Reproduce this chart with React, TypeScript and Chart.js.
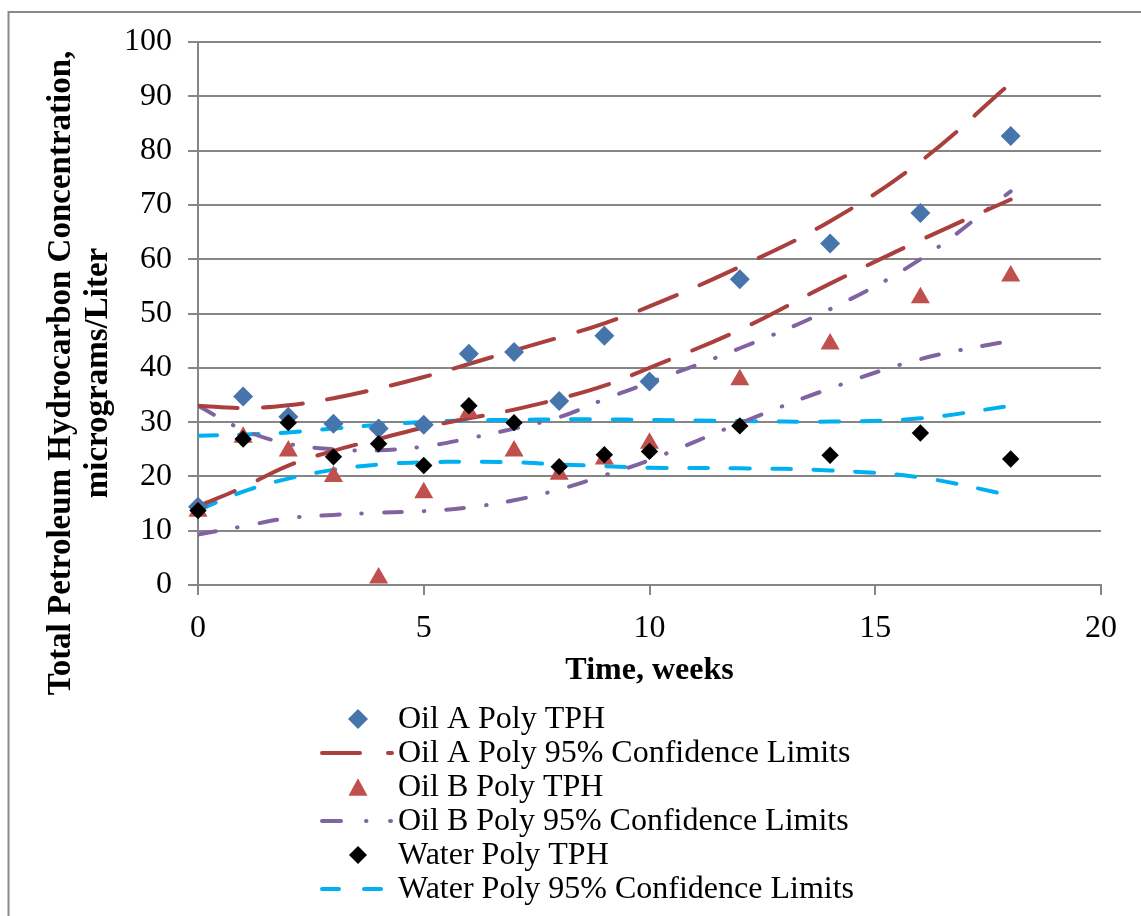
import React, { useEffect, useRef } from 'react';
import { Chart, registerables } from 'chart.js';

Chart.register(...registerables);

// ---------- data ----------
const weeks = [0, 1, 2, 3, 4, 5, 6, 7, 8, 9, 10, 12, 14, 16, 18];

const oilATph = [14.4, 34.7, 31.0, 29.7, 28.8, 29.5, 42.6, 42.9, 33.9, 45.9, 37.5, 56.3, 62.9, 68.5, 82.7];
const oilBTph = [13.6, 27.2, 24.7, 20.0, 1.3, 17.0, 31.8, 24.7, 20.4, 23.2, 26.1, 37.8, 44.4, 52.9, 56.9];
const waterTph = [13.7, 26.9, 29.9, 23.6, 26.0, 22.0, 33.0, 29.9, 21.8, 24.0, 24.6, 29.3, 23.9, 28.0, 23.2];

const oilAUpper = [33, 32.6, 33.1, 34.4, 36.2, 38.3, 40.7, 43.2, 45.6, 48.2, 51.3, 58.6, 67, 78, 92.4];
const oilALower = [14.5, 18, 22, 24.7, 26.9, 29, 30.7, 32.3, 34.3, 36.7, 40, 47, 55.5, 63.5, 71];
const oilBUpper = [33, 28.6, 26, 25, 24.8, 25.5, 27, 28.8, 30.9, 34.2, 37.3, 43.6, 50.8, 60, 72.5];
const oilBLower = [9.3, 10.8, 12.3, 12.9, 13.3, 13.6, 14.3, 15.6, 17.6, 20.2, 23, 29.8, 36.2, 41.6, 45];
const waterUpper = [27.5, 27.7, 28.1, 28.8, 29.5, 30, 30.3, 30.4, 30.5, 30.5, 30.4, 30.2, 30.1, 30.7, 33];
const waterLower = [13.8, 17.2, 19.6, 21.2, 22.2, 22.6, 22.7, 22.6, 22.2, 21.9, 21.6, 21.5, 21.1, 19.8, 16.5];

const legendLabels = [
  'Oil A Poly TPH',
  'Oil A Poly 95% Confidence Limits',
  'Oil B Poly TPH',
  'Oil B Poly 95% Confidence Limits',
  'Water Poly TPH',
  'Water Poly 95% Confidence Limits',
];

const yTitleLines = ['Total Petroleum Hydrocarbon Concentration,', 'micrograms/Liter'];
const xTitle = 'Time, weeks';

// ---------- styles ----------
const FONT = "'Liberation Serif', 'Times New Roman', serif";
const GRID = '#868686';
const BLUE = '#4675AC';
const RED_TRI = '#C0504D';
const RED_LINE = '#A9403D';
const PURPLE = '#8064A2';
const CYAN = '#00B0F0';

const RED_DASH = [40, 25];
const PURPLE_DASH = [18, 22, 0.5, 22];
const CYAN_DASH = [19, 22.5];

const pts = (ys: number[]) => weeks.map((x, i) => ({ x, y: ys[i] }));

function drawDiamond(ctx: CanvasRenderingContext2D, x: number, y: number, r: number, color: string) {
  ctx.beginPath();
  ctx.moveTo(x, y - r);
  ctx.lineTo(x + r, y);
  ctx.lineTo(x, y + r);
  ctx.lineTo(x - r, y);
  ctx.closePath();
  ctx.fillStyle = color;
  ctx.fill();
}

function drawTriangle(ctx: CanvasRenderingContext2D, x: number, y: number, r: number, color: string) {
  const h = r * 1.6;
  const w = r * Math.sqrt(3);
  ctx.beginPath();
  ctx.moveTo(x, y - h / 2);
  ctx.lineTo(x + w / 2, y + h / 2);
  ctx.lineTo(x - w / 2, y + h / 2);
  ctx.closePath();
  ctx.fillStyle = color;
  ctx.fill();
}

const framePlugin = {
  id: 'frameAndBg',
  beforeDraw(chart: any) {
    const ctx = chart.ctx as CanvasRenderingContext2D;
    ctx.save();
    ctx.fillStyle = '#ffffff';
    ctx.fillRect(0, 0, chart.width, chart.height);
    ctx.strokeStyle = '#898989';
    ctx.lineWidth = 2;
    ctx.strokeRect(8.5, 12, chart.width + 50, chart.height + 50);
    ctx.restore();
  },
};

const yTitlePlugin = {
  id: 'yTitle',
  afterDraw(chart: any) {
    const ctx = chart.ctx as CanvasRenderingContext2D;
    ctx.save();
    ctx.font = `bold 33px ${FONT}`;
    ctx.fillStyle = '#000';
    ctx.textAlign = 'center';
    ctx.textBaseline = 'middle';
    const cy = 373;
    const xs = [61, 98];
    yTitleLines.forEach((line, i) => {
      ctx.save();
      ctx.translate(xs[i], cy);
      ctx.rotate(-Math.PI / 2);
      ctx.fillText(line, 0, 0);
      ctx.restore();
    });
    ctx.restore();
  },
};

const legendPlugin = {
  id: 'customLegend',
  afterDraw(chart: any) {
    const ctx = chart.ctx as CanvasRenderingContext2D;
    const y0 = 719;
    const gap = 34;
    const markerX = 358;
    const lx0 = 322;
    const textX = 398;
    const samples: Record<number, { color: string; dash: number[]; end: number }> = {
      1: { color: RED_LINE, dash: [38, 28], end: 392 },
      3: { color: PURPLE, dash: [19, 25, 0.5, 23.5], end: 391 },
      5: { color: CYAN, dash: [17, 25], end: 384 },
    };
    ctx.save();
    legendLabels.forEach((label, i) => {
      const y = y0 + i * gap;
      if (i === 0) drawDiamond(ctx, markerX, y, 10, BLUE);
      if (i === 2) drawTriangle(ctx, markerX, y, 11, RED_TRI);
      if (i === 4) drawDiamond(ctx, markerX, y, 9, '#000');
      const s = samples[i];
      if (s) {
        ctx.save();
        ctx.lineWidth = 4;
        ctx.lineCap = 'round';
        ctx.strokeStyle = s.color;
        ctx.setLineDash(s.dash);
        ctx.beginPath();
        ctx.moveTo(lx0, y);
        ctx.lineTo(s.end, y);
        ctx.stroke();
        ctx.restore();
      }
      ctx.font = `32px ${FONT}`;
      ctx.fillStyle = '#000';
      ctx.textAlign = 'left';
      ctx.textBaseline = 'middle';
      ctx.fillText(label, textX, y + 1);
    });
    ctx.restore();
  },
};

function lineDs(data: number[], color: string, dash: number[]) {
  return {
    data: pts(data),
    showLine: true,
    borderColor: color,
    backgroundColor: color,
    borderWidth: 4,
    borderDash: dash,
    borderCapStyle: 'round',
    borderJoinStyle: 'round',
    tension: 0.4,
    pointRadius: 0,
    fill: false,
    order: 5,
  };
}

export default function App() {
  const ref = useRef<HTMLCanvasElement>(null);

  useEffect(() => {
    if (!ref.current) return;
    const chart = new Chart(ref.current, {
      type: 'scatter',
      data: {
        datasets: [
          lineDs(oilAUpper, RED_LINE, RED_DASH),
          lineDs(oilALower, RED_LINE, RED_DASH),
          lineDs(oilBUpper, PURPLE, PURPLE_DASH),
          lineDs(oilBLower, PURPLE, PURPLE_DASH),
          lineDs(waterUpper, CYAN, CYAN_DASH),
          lineDs(waterLower, CYAN, CYAN_DASH),
          {
            data: pts(oilATph),
            pointStyle: 'rectRot',
            pointRadius: 10,
            pointBackgroundColor: BLUE,
            pointBorderWidth: 0,
            borderWidth: 0,
            clip: false,
            order: 3,
          },
          {
            data: pts(oilBTph),
            pointStyle: 'triangle',
            pointRadius: 11,
            pointBackgroundColor: RED_TRI,
            pointBorderWidth: 0,
            borderWidth: 0,
            clip: false,
            order: 2,
          },
          {
            data: pts(waterTph),
            pointStyle: 'rectRot',
            pointRadius: 8.7,
            pointBackgroundColor: '#000',
            pointBorderWidth: 0,
            borderWidth: 0,
            clip: false,
            order: 1,
          },
        ] as any,
      },
      options: {
        responsive: false,
        animation: false,
        events: [],
        layout: { padding: { top: 42, right: 40, bottom: 227, left: 0 } },
        plugins: {
          legend: { display: false },
          tooltip: { enabled: false },
        },
        scales: {
          x: {
            type: 'linear',
            position: 'bottom',
            min: 0,
            max: 20,
            ticks: {
              stepSize: 5,
              color: '#000',
              font: { family: FONT, size: 32 },
              padding: 14,
              maxRotation: 0,
            },
            grid: { drawOnChartArea: false, drawTicks: true, tickLength: 10, color: GRID, lineWidth: 2 },
            border: { display: true, color: GRID, width: 2 },
            title: {
              display: true,
              text: xTitle,
              color: '#000',
              font: { family: FONT, size: 32, weight: 'bold', lineHeight: 1.15 },
              padding: 0,
            },
            afterFit: (s: any) => {
              s.height = 104;
            },
          },
          y: {
            type: 'linear',
            min: 0,
            max: 100,
            ticks: {
              stepSize: 10,
              color: '#000',
              font: { family: FONT, size: 32 },
              padding: 16,
            },
            grid: { color: GRID, lineWidth: 2, tickLength: 10, drawTicks: true },
            border: { display: true, color: GRID, width: 2 },
            afterFit: (s: any) => {
              s.width = 198;
            },
          },
        },
      } as any,
      plugins: [framePlugin, yTitlePlugin, legendPlugin],
    });
    return () => chart.destroy();
  }, []);

  return (
    <div style={{ position: 'absolute', left: 0, top: 0, width: 1141, height: 916, background: '#fff' }}>
      <canvas ref={ref} width={1141} height={916} style={{ display: 'block' }} />
    </div>
  );
}
